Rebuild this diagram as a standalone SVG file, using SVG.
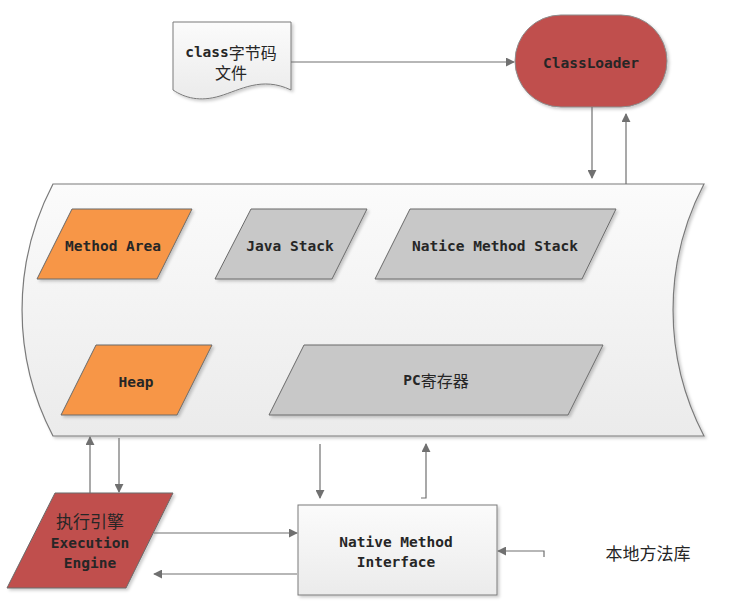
<svg xmlns="http://www.w3.org/2000/svg" width="736" height="604" viewBox="0 0 736 604">
<style>
.lbl{font-family:"DejaVu Sans Mono","Liberation Mono","Noto Sans CJK SC",monospace;font-weight:bold;font-size:14.5px;fill:#262626;text-anchor:middle;dominant-baseline:central}
.cjk{font-family:"Noto Sans CJK SC",sans-serif;font-size:17px;fill:#262626;text-anchor:middle;dominant-baseline:central}
.cn{font-weight:normal;font-family:"Noto Sans CJK SC",sans-serif;font-size:16px}
.conn{fill:none;stroke:#707070;stroke-width:1.2}
.pg{stroke:#6a6a6a;stroke-width:1}
</style>
<defs>
<linearGradient id="gLight" x1="0" y1="0" x2="0" y2="1">
<stop offset="0" stop-color="#fbfbfb"/><stop offset="1" stop-color="#ebebeb"/>
</linearGradient>
<filter id="sh" x="-10%" y="-10%" width="125%" height="125%">
<feDropShadow dx="2" dy="2" stdDeviation="1.5" flood-color="#000" flood-opacity="0.2"/>
</filter>
<marker id="arr" viewBox="0 0 10 10" refX="9" refY="5" markerWidth="9" markerHeight="9" markerUnits="userSpaceOnUse" orient="auto">
<path d="M0,0 L10,5 L0,10 Z" fill="#707070"/>
</marker>
</defs>
<rect width="736" height="604" fill="#ffffff"/>

<g id="runtime-area">
<path d="M53,184 L704,184 A272,272 0 0 0 704,436 L53,436 A272,272 0 0 1 53,184 Z" fill="url(#gLight)" stroke="#7a7a7a" stroke-width="1.2" filter="url(#sh)"/>
</g>

<g id="class-file">
<path d="M173,22 L291,22 L291,90 C262,76 240,90 220,96 C200,102 185,98 173,90 Z" fill="url(#gLight)" stroke="#7a7a7a" stroke-width="1" filter="url(#sh)"/>
<text class="lbl" x="231" y="52">class<tspan class="cn">字节码</tspan></text>
<text class="cjk" x="231" y="72" style="font-size:16px">文件</text>
</g>

<g id="classloader">
<rect x="515" y="15" width="152" height="92" rx="46" ry="46" fill="#C0504D" stroke="#8c8c8c" stroke-width="1" filter="url(#sh)"/>
<text class="lbl" x="591" y="63">ClassLoader</text>
</g>

<g id="method-area">
<polygon class="pg" points="72,209 192,209 157,279 37,279" fill="#F79646" filter="url(#sh)"/>
<text class="lbl" x="113" y="246">Method Area</text>
</g>

<g id="java-stack">
<polygon class="pg" points="251,209 367,209 332,279 215,279" fill="#C8C8C8" filter="url(#sh)"/>
<text class="lbl" x="290" y="246">Java Stack</text>
</g>

<g id="native-method-stack">
<polygon class="pg" points="410,209 616,209 582,279 375,279" fill="#C8C8C8" filter="url(#sh)"/>
<text class="lbl" x="495" y="246">Natice Method Stack</text>
</g>

<g id="heap">
<polygon class="pg" points="96,345 212,345 177,415 61,415" fill="#F79646" filter="url(#sh)"/>
<text class="lbl" x="136" y="382">Heap</text>
</g>

<g id="pc-register">
<polygon class="pg" points="304,345 603,345 568,415 269,415" fill="#C8C8C8" filter="url(#sh)"/>
<text class="lbl" x="436" y="380">PC<tspan class="cn">寄存器</tspan></text>
</g>

<g id="execution-engine">
<polygon class="pg" points="55,493 173,493 126,588 7,588" fill="#C0504D" filter="url(#sh)"/>
<text class="cjk" x="90" y="520">执行引擎</text>
<text class="lbl" x="90" y="543">Execution</text>
<text class="lbl" x="90" y="563">Engine</text>
</g>

<g id="native-method-interface">
<rect x="298" y="505" width="199" height="90" fill="url(#gLight)" stroke="#7a7a7a" stroke-width="1" filter="url(#sh)"/>
<text class="lbl" x="396" y="542">Native Method</text>
<text class="lbl" x="396" y="562">Interface</text>
</g>

<g id="native-library">
<text class="cjk" x="648" y="552">本地方法库</text>
</g>

<g id="connectors">
<path class="conn" d="M291,62 L514,62" marker-end="url(#arr)"/>
<path class="conn" d="M592,107 L592,178" marker-end="url(#arr)"/>
<path class="conn" d="M626,184 L626,114" marker-end="url(#arr)"/>
<path class="conn" d="M90,493 L90,437" marker-end="url(#arr)"/>
<path class="conn" d="M119,438 L119,492" marker-end="url(#arr)"/>
<path class="conn" d="M320,444 L320,498" marker-end="url(#arr)"/>
<path class="conn" d="M421,498 L426,498 L426,444" marker-end="url(#arr)"/>
<path class="conn" d="M154,533 L297,533" marker-end="url(#arr)"/>
<path class="conn" d="M297,574 L154,574" marker-end="url(#arr)"/>
<path class="conn" d="M544,557 L544,551 L498,551" marker-end="url(#arr)"/>
</g>
</svg>
